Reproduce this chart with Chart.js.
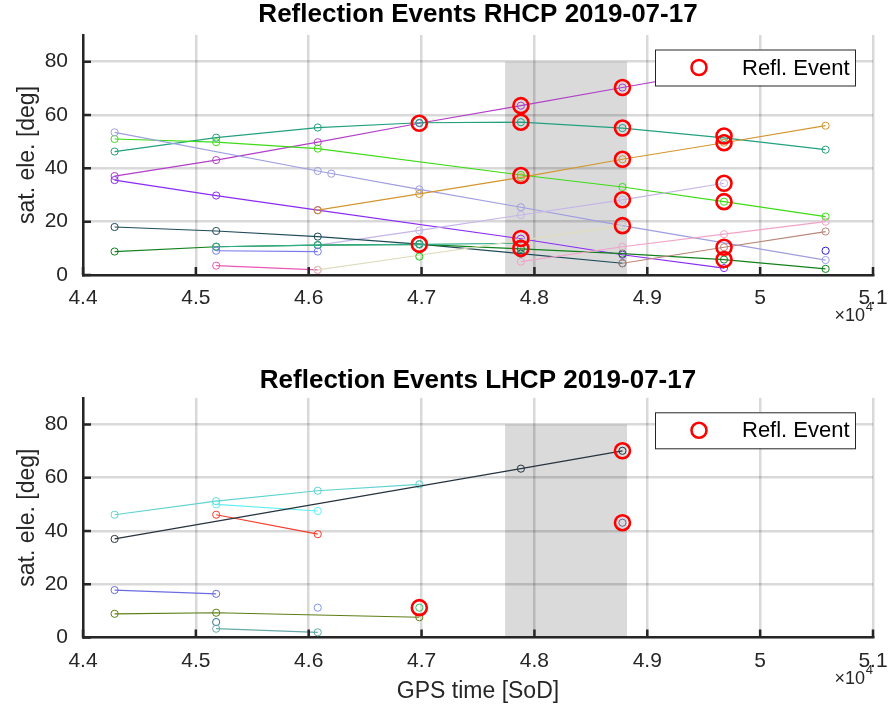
<!DOCTYPE html>
<html>
<head>
<meta charset="utf-8">
<title>Reflection Events 2019-07-17</title>
<script src="https://cdn.jsdelivr.net/npm/chart.js@4.4.0/dist/chart.umd.min.js"></script>
<style>
  html, body { margin: 0; padding: 0; background: #fff; }
  #wrap { position: relative; width: 891px; height: 717px; }
  canvas { position: absolute; left: 0; }
  #rhcp { top: 0; }
  #lhcp { top: 358px; }
</style>
</head>
<body>
<div id="wrap">
  <canvas id="rhcp" width="891" height="358"></canvas>
  <canvas id="lhcp" width="891" height="359"></canvas>
</div>
<script>
// epochs in GPS seconds of day, shared by both panels
const epochs = [44280, 45180, 46080, 46980, 47880, 48780, 49680, 50580];

const xTickValues = [44000, 45000, 46000, 47000, 48000, 49000, 50000, 51000];
const xTickLabels = ['4.4', '4.5', '4.6', '4.7', '4.8', '4.9', '5', '5.1'];
const yTickValues = [0, 20, 40, 60, 80];
const yTickLabels = ['0', '20', '40', '60', '80'];

// grey window
const shadeFrom = 47740;
const shadeTo = 48820;
const shadeTop = 80;

// RHCP elevations per satellite (null = not tracked)
const rhMagenta   = [37.1, 43.1, 49.8, 56.9, 63.5, 70.3, 77.0, null];
const rhTealHigh  = [46.3, 51.5, 55.3, 57.1, 57.3, 55.1, 51.4, 47.0];
const rhGreen     = [51.0, 49.8, 47.4, null, 37.5, 33.0, 27.5, 21.9];
const rhViolet    = [35.6, 29.8, 24.3, null, 13.6, 7.6, 2.6, null];
const rhLavender  = [53.5, null, 39.0, 32.1, 25.4, 18.5, null, 5.6];
const rhLavenderExtraTime = [46200];
const rhLavenderExtraElev = [38.0];
const rhLilac     = [null, null, 11.2, 16.7, 22.5, 28.2, 34.4, null];
const rhOrange    = [null, null, 24.3, 30.4, 36.6, 43.4, 49.6, 56.0];
const rhSlate     = [18.0, 16.5, 14.4, 11.6, 8.0, 4.4, null, null];
const rhDarkGreen = [8.8, 10.6, 11.2, 11.5, 9.8, 8.0, 5.8, 2.3];
const rhTealLow   = [null, 10.6, 11.2, 11.5, 11.9, null, null, null];
const rhBlueLow   = [null, 9.1, 8.8, null, null, null, null, null];
const rhHotPink   = [null, 3.5, 1.9, null, null, null, null, null];
const rhLightPink = [null, null, null, null, 5.0, 10.6, 15.3, 20.0];
const rhBeige     = [null, null, 1.9, 7.4, 13.0, 18.5, null, null];
const rhGreenLone = [null, null, null, 6.9, null, null, null, null];
const rhBrown     = [null, null, null, null, null, 4.4, 10.4, 16.3];
const rhBlueLone  = [null, null, null, null, null, null, null, 9.1];

const rhEventTimes = [46980, 46980, 47880, 47880, 47880, 47880, 47880, 48780, 48780, 48780, 48780, 48780, 49680, 49680, 49680, 49680, 49680, 49680];
const rhEventElev  = [56.9, 11.5, 63.5, 57.3, 37.3, 13.7, 10.0, 70.3, 55.1, 43.4, 28.2, 18.5, 52.1, 49.6, 34.4, 27.5, 10.4, 5.8];

// LHCP elevations per satellite
const lhCyanA      = [46.1, 51.2, 55.1, 57.5, null, null, null, null];
const lhCyanB      = [null, 50.0, 47.5, null, null, null, null, null];
const lhRed        = [null, 46.1, 38.8, null, null, null, null, null];
const lhDark       = [37.0, null, null, null, 63.4, 70.1, null, null];
const lhBluePurple = [17.8, 16.4, null, null, null, null, null, null];
const lhOlive      = [8.9, 9.3, null, 7.6, null, null, null, null];
const lhTealDark   = [null, 5.8, null, null, null, null, null, null];
const lhTealGray   = [null, 3.3, 1.95, null, null, null, null, null];
const lhBlueLone   = [null, null, 11.2, null, null, null, null, null];
const lhGreenLone  = [null, null, null, 11.2, null, null, null, null];
const lhPurpleLone = [null, null, null, null, null, 43.1, null, null];

const lhEventTimes = [46980, 48780, 48780];
const lhEventElev  = [11.2, 70.1, 43.1];

const FONT = "'Liberation Sans', Arial, Helvetica, sans-serif";
const AXIS_COLOR = '#262626';

function toPoints(times, values) {
    const pts = [];
    times.forEach((t, i) => {
        if (values[i] !== null) pts.push({ x: t, y: values[i] });
    });
    return pts;
}

function lineSet(values, color, times) {
    return {
        data: toPoints(times || epochs, values),
        showLine: true,
        borderColor: color,
        borderWidth: 1.2,
        backgroundColor: 'rgba(0,0,0,0)',
        pointRadius: 3.6,
        pointBorderWidth: 1,
        pointBorderColor: color,
        pointBackgroundColor: 'rgba(0,0,0,0)',
        order: 2
    };
}

function eventSet(times, values) {
    return {
        data: toPoints(times, values),
        showLine: false,
        pointRadius: 7.5,
        pointBorderWidth: 2.6,
        pointBorderColor: '#ff0000',
        pointBackgroundColor: 'rgba(0,0,0,0)',
        order: 1
    };
}

const rhDatasets = [
    eventSet(rhEventTimes, rhEventElev),
    lineSet(rhBlueLone, '#2b1fd0'),
    lineSet(rhBrown, '#b98578'),
    lineSet(rhGreenLone, '#2bc52b'),
    lineSet(rhBeige, '#dedcbc'),
    lineSet(rhLightPink, '#f2a3c8'),
    lineSet(rhHotPink, '#e858b4'),
    lineSet(rhBlueLow, '#7a7aee'),
    lineSet(rhTealLow, '#2fae8e'),
    lineSet(rhDarkGreen, '#13801c'),
    lineSet(rhSlate, '#1f4a5a'),
    lineSet(rhOrange, '#d2962e'),
    lineSet(rhLilac, '#c5b5e8'),
    lineSet(rhLavenderExtraElev, '#9e9ee0', rhLavenderExtraTime),
    lineSet(rhLavender, '#9e9ee0'),
    lineSet(rhViolet, '#8a2cf5'),
    lineSet(rhGreen, '#3ddc16'),
    lineSet(rhTealHigh, '#23a07f'),
    lineSet(rhMagenta, '#b23fc8')
];

const lhDatasets = [
    eventSet(lhEventTimes, lhEventElev),
    lineSet(lhPurpleLone, '#7b5d9a'),
    lineSet(lhGreenLone, '#2fc866'),
    lineSet(lhBlueLone, '#7f92ee'),
    lineSet(lhTealGray, '#67a9a9'),
    lineSet(lhTealDark, '#2b6f8f'),
    lineSet(lhOlive, '#5c7f14'),
    lineSet(lhBluePurple, '#6c6ce0'),
    lineSet(lhDark, '#27333f'),
    lineSet(lhRed, '#f83a2a'),
    lineSet(lhCyanB, '#62eef0'),
    lineSet(lhCyanA, '#5ed3d0')
];

// grey window under the grid
const shadePlugin = {
    id: 'shade',
    beforeDraw(chart) {
        const { ctx, scales: { x, y } } = chart;
        const left = x.getPixelForValue(shadeFrom);
        const right = x.getPixelForValue(shadeTo);
        const top = y.getPixelForValue(shadeTop);
        const bottom = y.getPixelForValue(0);
        ctx.save();
        ctx.fillStyle = '#dadada';
        ctx.fillRect(left, top, right - left, bottom - top);
        ctx.restore();
    }
};

// inward ticks, exponent, legend box, panel title
const decorPlugin = {
    id: 'decor',
    afterDatasetsDraw(chart, args, opts) {
        const { ctx, chartArea: area, scales: { x, y } } = chart;
        ctx.save();

        ctx.strokeStyle = AXIS_COLOR;
        ctx.lineWidth = 2.5;
        ctx.beginPath();
        xTickValues.forEach(v => {
            const px = x.getPixelForValue(v);
            ctx.moveTo(px, area.bottom);
            ctx.lineTo(px, area.bottom - 8);
        });
        yTickValues.forEach(v => {
            const py = y.getPixelForValue(v);
            ctx.moveTo(area.left, py);
            ctx.lineTo(area.left + 8, py);
        });
        ctx.stroke();

        // legend
        const bx = area.right - 218;
        const by = area.top + 14.5;
        const bw = 200, bh = 36;
        ctx.fillStyle = '#ffffff';
        ctx.fillRect(bx, by, bw, bh);
        ctx.strokeStyle = AXIS_COLOR;
        ctx.lineWidth = 1;
        ctx.strokeRect(bx + 0.5, by + 0.5, bw, bh);
        ctx.strokeStyle = '#ff0000';
        ctx.lineWidth = 2.6;
        ctx.beginPath();
        ctx.arc(bx + 44, by + bh / 2, 7.5, 0, Math.PI * 2);
        ctx.stroke();
        ctx.fillStyle = '#000000';
        ctx.font = '22px ' + FONT;
        ctx.textBaseline = 'middle';
        ctx.textAlign = 'left';
        ctx.fillText('Refl. Event', bx + 87, by + bh / 2 + 1);

        // x10^4
        ctx.fillStyle = AXIS_COLOR;
        ctx.textAlign = 'right';
        ctx.textBaseline = 'alphabetic';
        ctx.font = '13px ' + FONT;
        ctx.fillText('4', area.right, area.bottom + 36);
        ctx.font = '18px ' + FONT;
        ctx.fillText('\u00d710', area.right - 8, area.bottom + 46);

        ctx.restore();
    },
    afterDraw(chart, args, opts) {
        const { ctx, chartArea: area } = chart;
        ctx.save();
        ctx.fillStyle = '#000000';
        ctx.font = 'bold 26px ' + FONT;
        ctx.textAlign = 'center';
        ctx.textBaseline = 'middle';
        ctx.fillText(opts.text, (area.left + area.right) / 2, opts.titleY);
        ctx.restore();
    }
};

function makeChart(canvasId, datasets, panel) {
    return new Chart(document.getElementById(canvasId), {
        type: 'scatter',
        data: { datasets: datasets },
        options: {
            responsive: false,
            animation: false,
            events: [],
            layout: { padding: { left: 0, right: 18, top: panel.padTop, bottom: 0 } },
            plugins: {
                legend: { display: false },
                tooltip: { enabled: false },
                decor: { text: panel.title, titleY: panel.titleY }
            },
            scales: {
                x: {
                    type: 'linear',
                    min: 44000,
                    max: 51000,
                    afterBuildTicks: s => { s.ticks = xTickValues.map(v => ({ value: v })); },
                    afterFit: s => {
                        s.height = panel.xHeight;
                        s.paddingLeft = 0;
                        s.paddingRight = 0;
                    },
                    ticks: {
                        autoSkip: false,
                        maxRotation: 0,
                        padding: 11,
                        color: AXIS_COLOR,
                        font: { family: FONT, size: 21 },
                        callback: (v, i) => xTickLabels[i]
                    },
                    grid: { color: 'rgba(0,0,0,0.15)', lineWidth: 2.5, drawTicks: false },
                    border: { color: AXIS_COLOR, width: 2.5 },
                    title: {
                        display: panel.xTitle !== '',
                        text: panel.xTitle,
                        color: AXIS_COLOR,
                        font: { family: FONT, size: 23 },
                        padding: { top: 0, bottom: 12 }
                    }
                },
                y: {
                    type: 'linear',
                    min: 0,
                    max: 90,
                    afterBuildTicks: s => { s.ticks = yTickValues.map(v => ({ value: v })); },
                    afterFit: s => { s.width = 83; },
                    ticks: {
                        padding: 15,
                        color: AXIS_COLOR,
                        font: { family: FONT, size: 21 },
                        callback: (v, i) => yTickLabels[i]
                    },
                    grid: { color: 'rgba(0,0,0,0.15)', lineWidth: 2.5, drawTicks: false },
                    border: { color: AXIS_COLOR, width: 2.5 },
                    title: {
                        display: true,
                        text: 'sat. ele. [deg]',
                        color: AXIS_COLOR,
                        font: { family: FONT, size: 23 },
                        padding: { top: 14, bottom: 0 }
                    }
                }
            }
        },
        plugins: [shadePlugin, decorPlugin]
    });
}

makeChart('rhcp', rhDatasets, {
    title: 'Reflection Events RHCP 2019-07-17',
    titleY: 15,
    padTop: 35,
    xHeight: 83,
    xTitle: ''
});

makeChart('lhcp', lhDatasets, {
    title: 'Reflection Events LHCP 2019-07-17',
    titleY: 23,
    padTop: 39.8,
    xHeight: 79.5,
    xTitle: 'GPS time [SoD]'
});
</script>
</body>
</html>
